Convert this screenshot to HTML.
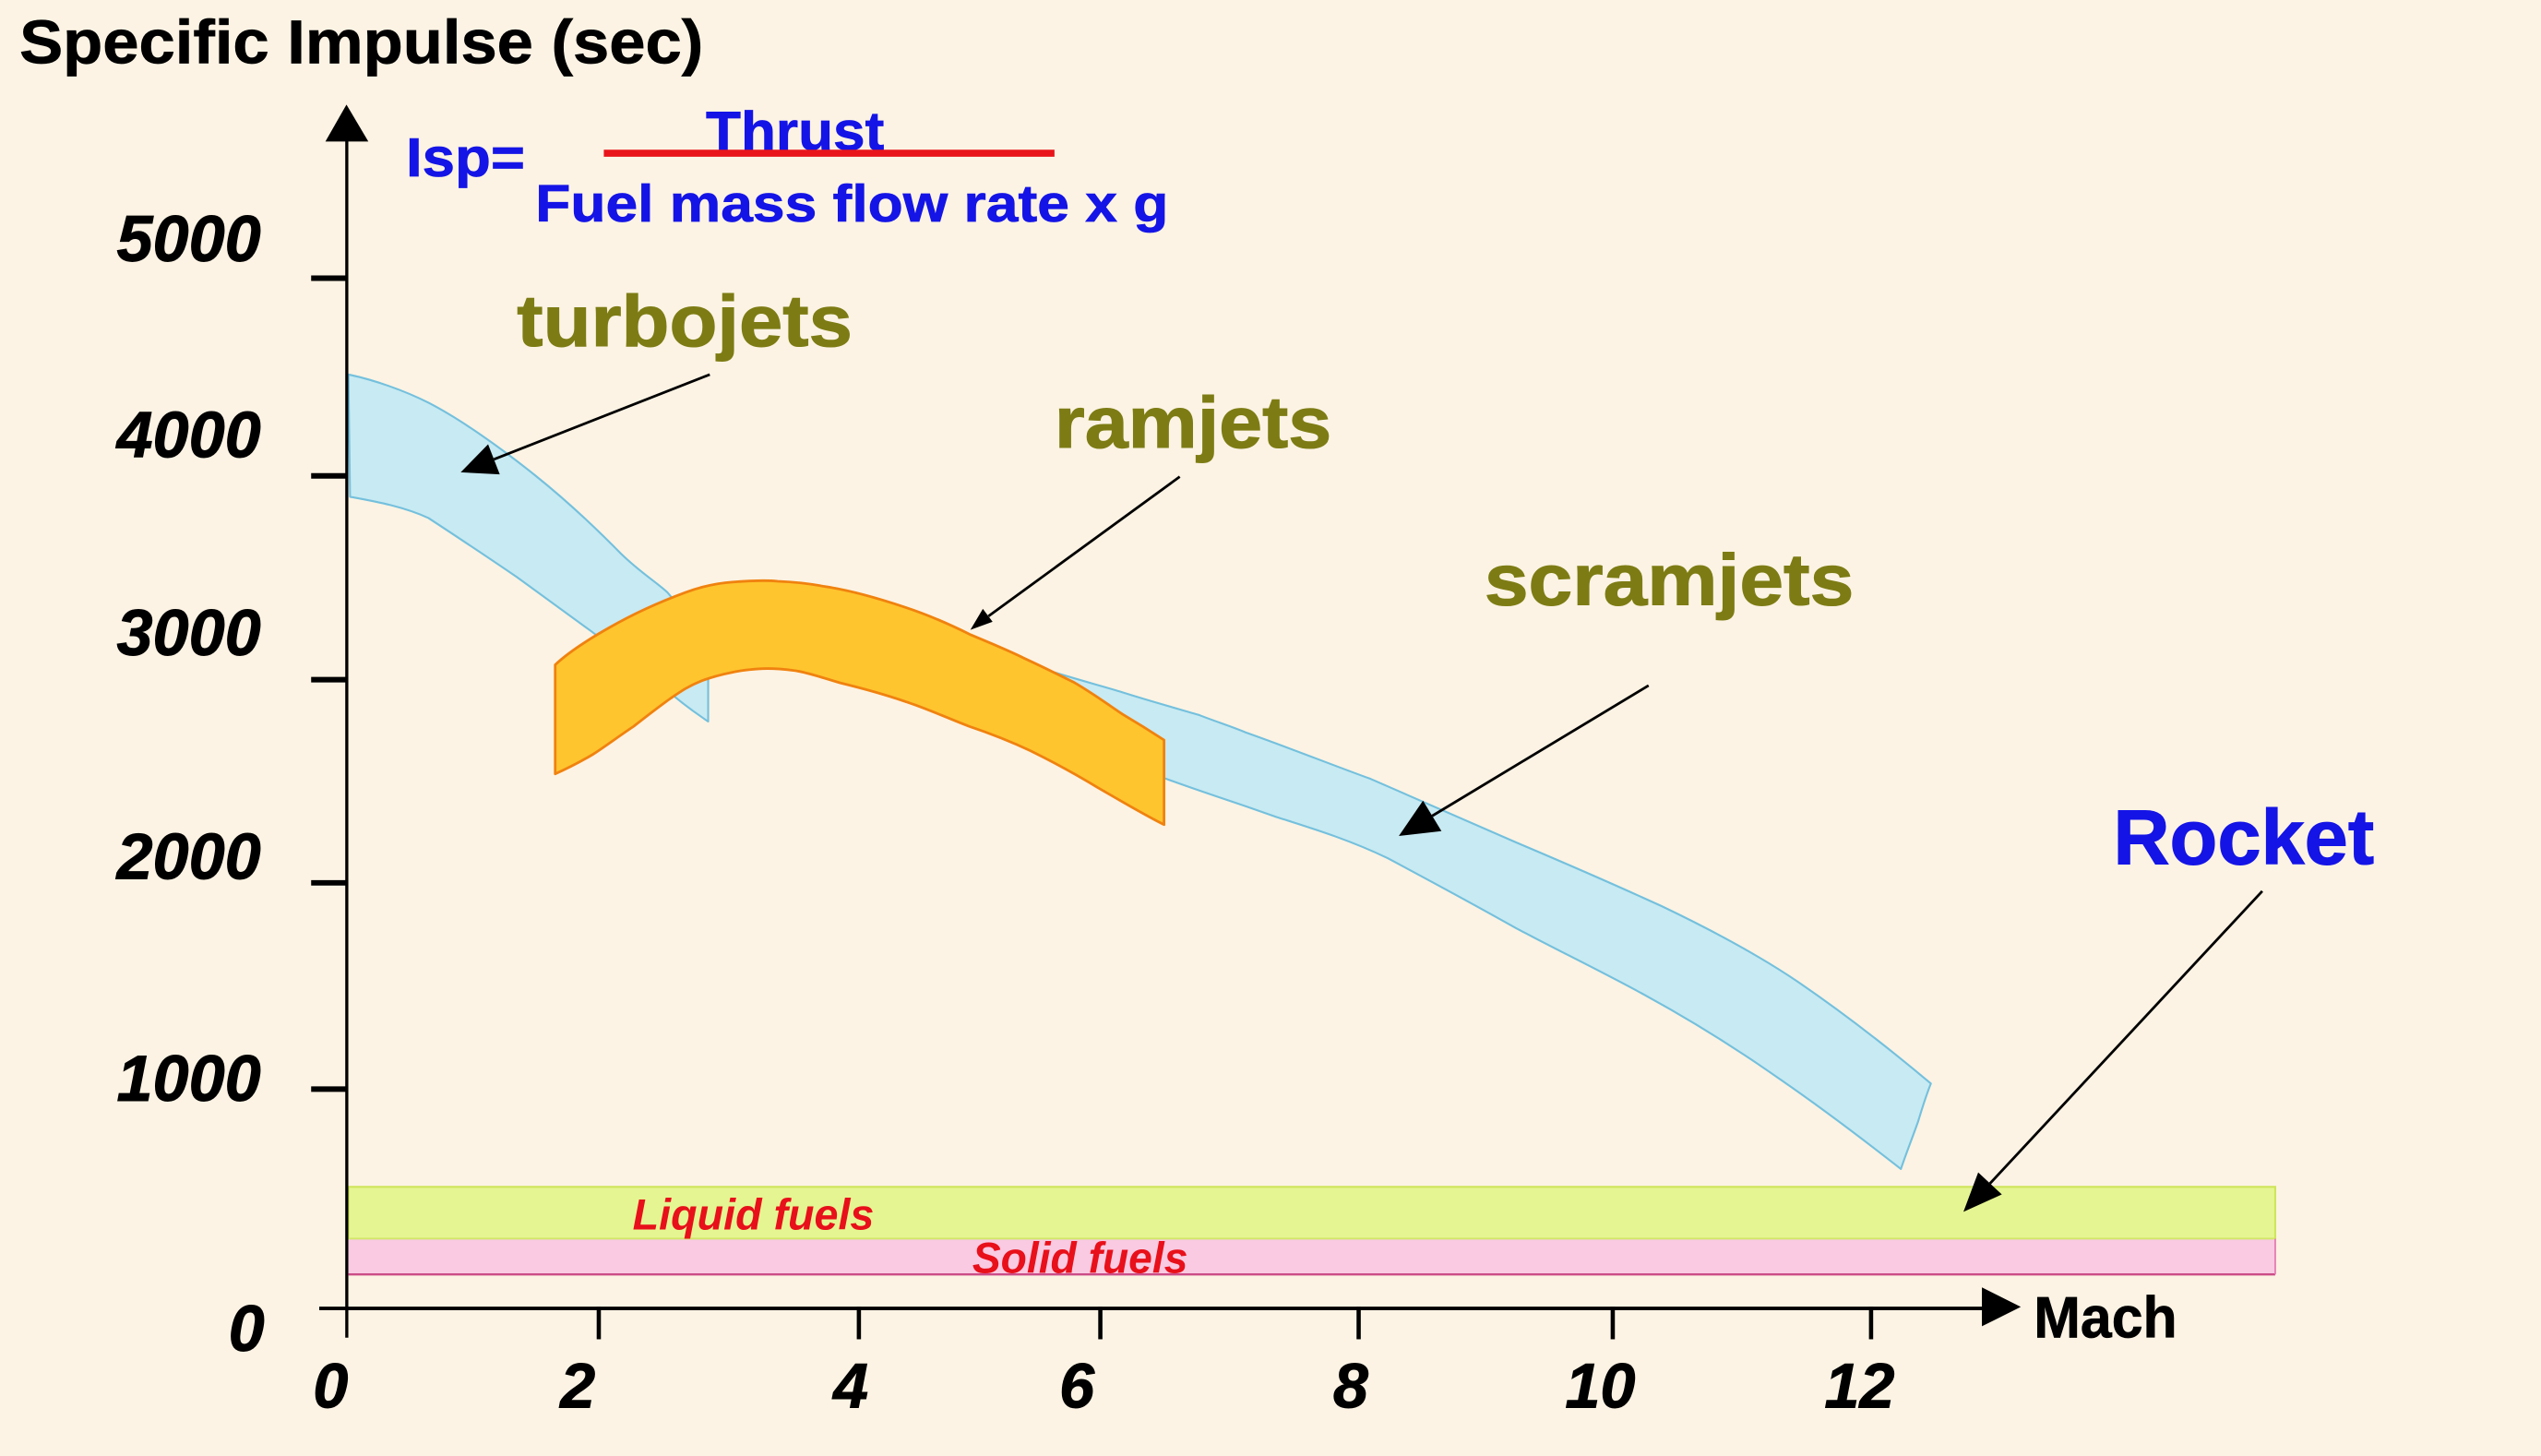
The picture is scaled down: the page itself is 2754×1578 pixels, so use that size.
<!DOCTYPE html>
<html>
<head>
<meta charset="utf-8">
<style>
  html, body { margin: 0; padding: 0; background: #FCF3E4; }
  body { width: 2754px; height: 1578px; overflow: hidden; }
  svg { display: block; }
  text { font-family: "Liberation Sans", Arial, sans-serif; font-weight: bold; }
</style>
</head>
<body>
<svg width="2754" height="1578" viewBox="0 0 1568 898" preserveAspectRatio="none" xmlns="http://www.w3.org/2000/svg">
  <rect x="0" y="0" width="1568" height="898" fill="#FCF3E4"/>

  <!-- Title -->
  <text x="12" y="39" font-size="38" fill="#000" stroke="#000" stroke-width="0.4" textLength="422" lengthAdjust="spacingAndGlyphs">Specific Impulse (sec)</text>

  <!-- Formula -->
  <text x="250.5" y="108.8" font-size="34" fill="#1414E6" stroke="#1414E6" stroke-width="0.4" textLength="73.5" lengthAdjust="spacingAndGlyphs">Isp=</text>
  <text x="435.6" y="92.5" font-size="34" fill="#1414E6" stroke="#1414E6" stroke-width="0.4" textLength="110" lengthAdjust="spacingAndGlyphs">Thrust</text>
  <line x1="372.6" y1="94.5" x2="650.7" y2="94.5" stroke="#E8141A" stroke-width="4.4"/>
  <text x="330.4" y="136.6" font-size="32" fill="#1414E6" stroke="#1414E6" stroke-width="0.4" textLength="390.6" lengthAdjust="spacingAndGlyphs">Fuel mass flow rate x g</text>

  <!-- Liquid / solid bands -->
  <rect x="215" y="732" width="1189" height="32" fill="#E5F592" stroke="#CFE55A" stroke-width="1.2"/>
  <rect x="215" y="764" width="1189" height="22" fill="#F9CAE2"/>
  <line x1="215" y1="764" x2="1404" y2="764" stroke="#D2E66A" stroke-width="1"/>
  <line x1="215" y1="786" x2="1404" y2="786" stroke="#CC4C88" stroke-width="1.3"/>
  <line x1="1404" y1="764" x2="1404" y2="786" stroke="#E27AB0" stroke-width="1"/>
  <text x="390.4" y="758.4" font-size="27" font-style="italic" fill="#E8101A" textLength="149" lengthAdjust="spacingAndGlyphs">Liquid fuels</text>
  <text x="600" y="785" font-size="27" font-style="italic" fill="#E8101A" textLength="133" lengthAdjust="spacingAndGlyphs">Solid fuels</text>

  <!-- Blue bands (turbojet + scramjet) -->
  <path fill="#C8EAF2" stroke="#74C0DD" stroke-width="1.2" stroke-linejoin="round"
    d="M215,231 C230,234 250,241 264.4,248.4 C285,259 310,277 330,293 C350,309 368,326 383.3,341.6 C395,353 405,359 411.8,365.3 L437,395 L437,445 C425,437 415,429 406.6,421.3 C390,408 375,397 364.4,389 C345,375 330,364 318.8,355.8 C300,343 285,333 264.4,319.5 C248,312 230,309 216,306.4 Z"/>
  <path fill="#C8EAF2" stroke="#74C0DD" stroke-width="1.2" stroke-linejoin="round"
    d="M600,395 C615,401 625,406 635.8,410 C660,418 680,423 692.7,427 C715,434 730,438 740,441 C750,445 760,448 768.6,451.7 C795,461 820,471 845.8,480.4 C875,493 905,506 935.4,519.5 C965,532 995,545 1025,558.7 C1055,573 1085,589 1109.7,605.7 C1135,623 1165,646 1191.5,668.3 C1188,677 1186,684 1183.6,691.8 C1180,702 1176,712 1173,721 C1150,703 1125,684 1099.2,666.2 C1072,647 1043,629 1014.6,613.5 C988,599 961,586 935.4,572.4 C908,557 882,543 856.3,529.3 C833,518 810,511 787.7,503.9 L768.6,497.2 C750,491 735,486 719.3,480.2 C695,472 665,461 640,452 L600,440 Z"/>

  <!-- Orange ramjet band -->
  <path fill="#FEC52E" stroke="#F0820F" stroke-width="1.6" stroke-linejoin="round"
    d="M342.6,410 C350,403 362,395 375.8,387.2 C390,379 405,372 423.2,365.3 C435,361 445,359.5 451.7,359 C465,358 475,358 480,358.5 C492,359 500,360 508,361.6 C525,364 542,369 559,374.7 C575,380 588,386 599,391.5 C612,397 622,401 632,406 C645,412 655,417 663,421 C675,428 683,434 692.7,440.5 C702,446 710,451 718.3,456.4 L718.3,508.6 C705,502 690,493 677.5,485.8 C663,477 650,470 635.8,463 C623,457 610,452 597.8,447.9 C585,443 572,437 559,432.8 C545,428 530,424 518.5,421.2 C505,417 495,414 489.6,413.5 C482,412.5 476,412.2 470.7,412.4 C463,412.8 457,413.5 451.7,414.7 C445,416 438,418 432.7,420 C425,423 420,426.5 413.7,430.8 C405,437 398,442.5 391,448 C382,454 374,460 366.3,465 C358,470 350,474 342.6,477.3 Z"/>

  <!-- Axes -->
  <line x1="214" y1="70" x2="214" y2="825" stroke="#000" stroke-width="1.9"/>
  <polygon points="213.8,64.5 200.8,87.3 227.3,87.3" fill="#000"/>
  <line x1="197" y1="807" x2="1224" y2="807" stroke="#000" stroke-width="2.2"/>
  <polygon points="1223,794 1223,818 1247,806" fill="#000"/>

  <!-- Y ticks -->
  <g stroke="#000" stroke-width="3.4">
    <line x1="192" y1="171.6" x2="214" y2="171.6"/>
    <line x1="192" y1="293.5" x2="214" y2="293.5"/>
    <line x1="192" y1="419.2" x2="214" y2="419.2"/>
    <line x1="192" y1="544.5" x2="214" y2="544.5"/>
    <line x1="192" y1="671.7" x2="214" y2="671.7"/>
  </g>
  <!-- X ticks -->
  <g stroke="#000" stroke-width="2.6">
    <line x1="369.5" y1="806" x2="369.5" y2="826"/>
    <line x1="530" y1="806" x2="530" y2="826"/>
    <line x1="679" y1="806" x2="679" y2="826"/>
    <line x1="838.4" y1="806" x2="838.4" y2="826"/>
    <line x1="995.2" y1="806" x2="995.2" y2="826"/>
    <line x1="1154.6" y1="806" x2="1154.6" y2="826"/>
  </g>

  <!-- Y labels -->
  <g font-size="40" font-style="italic" fill="#000" stroke="#000" stroke-width="0.5">
    <text x="72" y="161" textLength="89" lengthAdjust="spacingAndGlyphs">5000</text>
    <text x="72" y="282" textLength="89" lengthAdjust="spacingAndGlyphs">4000</text>
    <text x="72" y="404" textLength="89" lengthAdjust="spacingAndGlyphs">3000</text>
    <text x="72" y="542" textLength="89" lengthAdjust="spacingAndGlyphs">2000</text>
    <text x="72" y="679" textLength="89" lengthAdjust="spacingAndGlyphs">1000</text>
    <text x="141" y="833">0</text>
  </g>
  <!-- X labels -->
  <g font-size="39" font-style="italic" fill="#000" stroke="#000" stroke-width="0.5" text-anchor="middle">
    <text x="204" y="868">0</text>
    <text x="356.5" y="868">2</text>
    <text x="525" y="868">4</text>
    <text x="664.5" y="868">6</text>
    <text x="833.5" y="868">8</text>
    <text x="987.5" y="868">10</text>
    <text x="1147.5" y="868">12</text>
  </g>
  <text x="1255" y="825" font-size="36" fill="#000" stroke="#000" stroke-width="0.4" textLength="88.5" lengthAdjust="spacingAndGlyphs">Mach</text>

  <!-- Labels -->
  <g font-size="45" fill="#7D7C14" stroke="#7D7C14" stroke-width="0.6">
    <text x="319" y="213.5" textLength="207" lengthAdjust="spacingAndGlyphs">turbojets</text>
    <text x="650.7" y="276" textLength="171" lengthAdjust="spacingAndGlyphs">ramjets</text>
    <text x="916" y="373" textLength="228" lengthAdjust="spacingAndGlyphs">scramjets</text>
  </g>
  <text x="1304" y="533" font-size="48" fill="#1414E6" stroke="#1414E6" stroke-width="0.6" textLength="161" lengthAdjust="spacingAndGlyphs">Rocket</text>

  <!-- Arrows -->
  <g stroke="#000" stroke-width="1.6" fill="none">
    <line x1="438" y1="231" x2="304.8" y2="283.3"/>
    <line x1="728" y1="294" x2="610" y2="380"/>
    <line x1="1017.3" y1="422.8" x2="883.8" y2="503.2"/>
    <line x1="1396" y1="549.6" x2="1228" y2="729.9"/>
  </g>
  <g fill="#000">
    <polygon points="284.3,291.3 308.4,292.6 301.2,274"/>
    <polygon points="598.8,388.5 612.5,383.5 606.5,375.5"/>
    <polygon points="863.2,515.6 889.5,512.6 878.1,493.8"/>
    <polygon points="1211.6,747.4 1235.3,736.7 1220.7,723.1"/>
  </g>
</svg>
</body>
</html>
